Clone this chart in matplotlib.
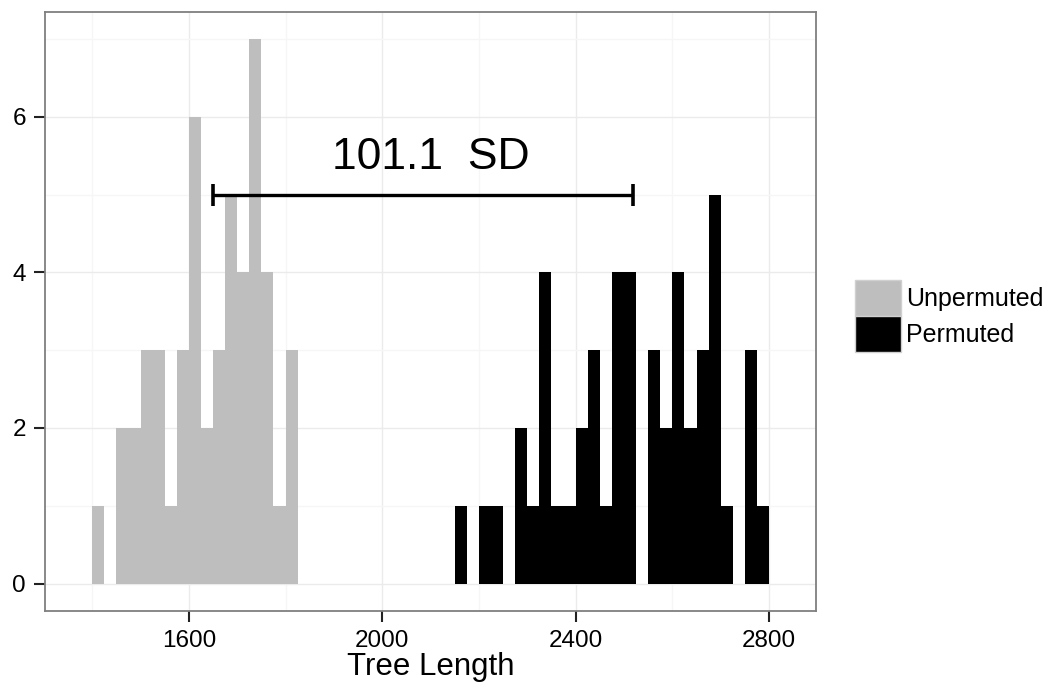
import numpy as np
import matplotlib
matplotlib.use('Agg')
import matplotlib.pyplot as plt
from matplotlib.patches import Patch

plt.rcParams['font.family'] = ['Liberation Sans', 'DejaVu Sans']

# histogram data (bin width 25)
bin_width = 25
unperm_left = np.arange(1400, 1825, bin_width)
unperm_counts = [1, 0, 2, 2, 3, 3, 1, 3, 6, 2, 3, 5, 4, 7, 4, 1, 3]
perm_left = np.arange(2150, 2800, bin_width)
perm_counts = [1, 0, 1, 1, 0, 2, 1, 4, 1, 1, 2, 3, 1, 4, 4,
               0, 3, 2, 4, 2, 3, 5, 1, 0, 3, 1]

# distance between group means
sd_bar_x = [1649, 2519]
sd_bar_y = 5
sd_label = "101.1  SD"

x_ticks = [1600, 2000, 2400, 2800]
x_minor = [1400, 1800, 2200, 2600]
y_ticks = [0, 2, 4, 6]
y_minor = [1, 3, 5, 7]

grey = '#BEBEBE'

fig = plt.figure(figsize=(10.5, 6.89), dpi=100)
ax = fig.add_axes([0.0431, 0.1136, 0.734, 0.8694])

ax.bar(unperm_left, unperm_counts, width=bin_width, align='edge',
       color=grey, linewidth=0, zorder=2)
ax.bar(perm_left, perm_counts, width=bin_width, align='edge',
       color='black', linewidth=0, zorder=2)

ax.errorbar((sd_bar_x[0] + sd_bar_x[1]) / 2, sd_bar_y,
            xerr=(sd_bar_x[1] - sd_bar_x[0]) / 2,
            color='black', lw=2.4, capsize=8, capthick=2.6, zorder=3)
ax.text(2100, 5.47, sd_label, ha='center', va='center', fontsize=32)

ax.set_xlim(1303, 2897)
ax.set_ylim(-0.35, 7.35)
ax.set_xticks(x_ticks)
ax.set_xticks(x_minor, minor=True)
ax.set_yticks(y_ticks)
ax.set_yticks(y_minor, minor=True)
ax.tick_params(which='major', length=8, width=1.5, color='#222222',
               labelsize=17.5)
ax.tick_params(axis='x', which='major', pad=6)
ax.tick_params(axis='y', which='major', pad=6)
ax.tick_params(which='minor', length=0)

ax.grid(which='major', color='#EBEBEB', lw=1.0, zorder=0)
ax.grid(which='minor', color='#F6F6F6', lw=1.0, zorder=0)
ax.set_axisbelow(True)
for s in ax.spines.values():
    s.set_color('#7F7F7F')
    s.set_linewidth(1.3)

ax.set_xlabel('Tree Length', fontsize=22.5, labelpad=0)

handles = [Patch(facecolor=grey, edgecolor='#D0D0D0', lw=1, label='Unpermuted'),
           Patch(facecolor='black', edgecolor='#D0D0D0', lw=1, label='Permuted')]
fig.legend(handles=handles, loc='center left',
           bbox_to_anchor=(855 / 1050, 1 - 316 / 689),
           bbox_transform=fig.transFigure, frameon=False,
           fontsize=18, handlelength=1.83, handleheight=1.83,
           handletextpad=0.22, labelspacing=0.0, borderpad=0, borderaxespad=0)

fig.savefig('out.png', dpi=100)
